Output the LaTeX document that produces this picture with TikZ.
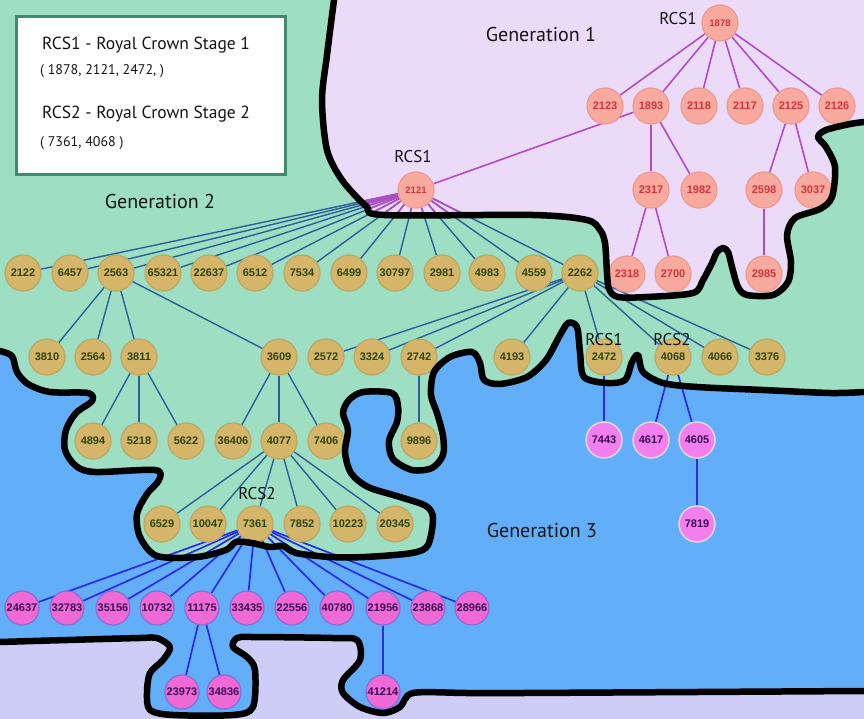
\documentclass[tikz,border=0pt]{standalone}
\usepackage{fontspec}
\setmainfont{PT Sans}
\newfontfamily\numfont{Liberation Sans}
\pgfdeclarelayer{back}
\pgfdeclarelayer{edges}
\pgfdeclarelayer{front}
\pgfsetlayers{back,edges,main,front}
\definecolor{bgblue}{HTML}{62AEF8}
\definecolor{bggreen}{HTML}{9EDFC4}
\definecolor{bglav}{HTML}{EBDAF8}
\definecolor{bglavb}{HTML}{CECDF8}
\definecolor{gaf}{HTML}{F9AA9F}
\definecolor{gal}{HTML}{EC9A90}
\definecolor{gat}{HTML}{D0363C}
\definecolor{gbf}{HTML}{D5B56A}
\definecolor{gbl}{HTML}{B9A862}
\definecolor{gbt}{HTML}{2D4612}
\definecolor{gcf}{HTML}{F37EEE}
\definecolor{gcl}{HTML}{E4D6EE}
\definecolor{gct}{HTML}{3A0B55}
\definecolor{gdf}{HTML}{F06AD6}
\definecolor{gdl}{HTML}{7F6FD6}
\definecolor{eacol}{HTML}{B04CC8}
\definecolor{ebcol}{HTML}{2D5E98}
\definecolor{eccol}{HTML}{2A2AEA}
\definecolor{legline}{HTML}{3D8C6E}
\definecolor{txtcol}{HTML}{141414}

\newcommand\LavB{plot[smooth,tension=0.5] coordinates {(334,0) (327,55) (322,100) (327,150) (342,180) (366,206) (384,215) (533,215) (587,220) (600,230) (605,243) (607,273) (609,289) (618,297) (647,297) (693,293) (703,280) (712,263) (717,252) (723,248) (728,252) (732,267) (738,287) (747,295) (773,295) (788,282) (791,262) (787,235) (795,218) (820,209) (832,197) (835,167) (826,147) (818,137) (826,130) (850,124) (864,122)}}
\newcommand\GrnB{plot[smooth,tension=0.5] coordinates {(0,351) (12,356) (17,372) (28,384) (50,392) (88,393) (92,401) (76,413) (66,430) (65,450) (76,466) (95,472) (155,470) (159,480) (147,494) (137,514) (140,537) (157,556) (197,557) (226,550) (236,542) (252,543) (270,547) (283,546) (296,553) (330,557) (365,557) (412,553) (428,545) (433,518) (426,506) (400,497) (368,487) (351,473) (345,452) (348,430) (343,413) (349,400) (363,392) (392,393) (398,406) (397,422) (389,441) (393,459) (412,470) (432,468) (443,455) (443,436) (437,413) (431,395) (434,372) (450,357) (472,352) (480,363) (484,380) (500,384) (527,377) (546,360) (559,337) (568,323) (577,327) (580,352) (584,377) (607,383) (625,380) (632,362) (638,355) (643,372) (663,383) (697,387) (763,390) (830,393) (864,392)}}
\newcommand\BotB{plot[smooth,tension=0.5] coordinates {(0,642) (67,640) (140,638) (157,638) (170,647) (163,660) (150,673) (147,693) (150,710) (173,715) (233,715) (253,707) (255,670) (247,657) (233,647) (237,638) (253,637) (333,638) (357,640) (360,660) (343,680) (343,693) (360,707) (383,713) (400,707) (413,693) (467,693) (523,693) (864,691)}}

\tikzset{
  nd/.style={circle, minimum size=36pt, inner sep=0pt, line width=1.2pt, font=\numfont\bfseries\fontsize{11}{12}\selectfont},
  ga/.style={nd, fill=gaf, draw=gal, text=gat},
  gasmall/.style={ga, font=\numfont\bfseries\fontsize{9.5}{11}\selectfont},
  gb/.style={nd, fill=gbf, draw=gbl, text=gbt},
  gc/.style={nd, fill=gcf, draw=gcl, line width=1.5pt, text=gct},
  gd/.style={nd, minimum size=34pt, fill=gdf, draw=gdl, text=gct},
  ea/.style={draw=eacol, line width=1.6pt},
  eb/.style={draw=ebcol, line width=1.4pt},
  ec/.style={draw=eccol, line width=1.7pt},
  bound/.style={draw=black, line width=6.5pt, line cap=round, line join=round},
  lbl/.style={inner sep=0pt, text=txtcol, font=\fontsize{17}{20}\selectfont},
  gen/.style={inner sep=0pt, text=txtcol, font=\fontsize{20}{24}\selectfont},
  legtxt/.style={inner sep=0pt, anchor=west, text=txtcol, font=\fontsize{17.5}{21}\selectfont},
  legsub/.style={inner sep=0pt, anchor=west, text=txtcol, font=\fontsize{14}{17}\selectfont},
}

\begin{document}
\begin{tikzpicture}[x=1pt,y=-1pt]
\useasboundingbox (0,0) rectangle (864,719);

% ---------- nodes ----------
% Generation 1
\node[gasmall] (n1878) at (720,23) {1878};
\foreach \n/\x in {2123/605,1893/651,2118/699,2117/745,2125/791,2126/837}
  \node[ga] (n\n) at (\x,106) {\n};
\foreach \n/\x in {2317/651,1982/699,2598/764,3037/813}
  \node[ga] (n\n) at (\x,190) {\n};
\foreach \n/\x in {2318/627,2700/673,2985/764}
  \node[ga] (n\n) at (\x,274) {\n};
\node[gasmall] (n2121) at (416,190) {2121};

% Generation 2
\foreach \n/\x in {2122/23,6457/70,2563/116,65321/163,22637/209,6512/255,7534/302,6499/349,30797/395,2981/442,4983/487,4559/534,2262/580}
  \node[gb] (n\n) at (\x,273) {\n};
\foreach \n/\x in {3810/47,2564/93,3811/139,3609/279,2572/326,3324/372,2742/419,4193/512,2472/604,4068/673,4066/720,3376/767}
  \node[gb] (n\n) at (\x,357) {\n};
\foreach \n/\x in {4894/93,5218/139,5622/186,36406/233,4077/279,7406/326,9896/419}
  \node[gb] (n\n) at (\x,441) {\n};
\foreach \n/\x in {6529/162,10047/208,7361/255,7852/302,10223/348,20345/395}
  \node[gb] (n\n) at (\x,524) {\n};

% Generation 3
\foreach \n/\x in {7443/604,4617/651,4605/697}
  \node[gc] (n\n) at (\x,440) {\n};
\node[gc] (n7819) at (697,524) {7819};
\foreach \n/\x in {24637/22,32783/67,35156/113,10732/157,11175/202,33435/247,22556/292,40780/337,21956/383,23868/428,28966/472}
  \node[gd] (n\n) at (\x,608) {\n};
\foreach \n/\x in {23973/182,34836/224,41214/383}
  \node[gd] (n\n) at (\x,692) {\n};

% ---------- edges ----------
\begin{pgfonlayer}{edges}
  \foreach \c in {2123,1893,2118,2117,2125,2126} \draw[ea] (n1878) -- (n\c);
  \foreach \c in {2317,1982} \draw[ea] (n1893) -- (n\c);
  \foreach \c in {2318,2700} \draw[ea] (n2317) -- (n\c);
  \foreach \c in {2598,3037} \draw[ea] (n2125) -- (n\c);
  \draw[ea] (n2598) -- (n2985);
  \draw[ea] (n2121) -- (n1893);

  \foreach \c in {2122,6457,2563,65321,22637,6512,7534,6499,30797,2981,4983,4559,2262} \draw[eb] (n2121) -- (n\c);
  \begin{scope}
    \clip \LavB -- (864,0) -- cycle;
    \foreach \c in {2122,6457,2563,65321,22637,6512,7534,6499,30797,2981,4983,4559,2262} \draw[ea] (n2121) -- (n\c);
  \end{scope}
  \foreach \c in {3810,2564,3811,3609} \draw[eb] (n2563) -- (n\c);
  \foreach \c in {4894,5218,5622} \draw[eb] (n3811) -- (n\c);
  \foreach \c in {36406,4077,7406} \draw[eb] (n3609) -- (n\c);
  \draw[eb] (n2742) -- (n9896);
  \foreach \c in {2572,3324,2742,4193,2472,4068,4066,3376} \draw[eb] (n2262) -- (n\c);
  \foreach \c in {6529,10047,7361,7852,10223,20345} \draw[eb] (n4077) -- (n\c);

  \foreach \c in {24637,32783,35156,10732,11175,33435,22556,40780,21956,23868,28966} \draw[ec] (n7361) -- (n\c);
  \foreach \c in {23973,34836} \draw[ec] (n11175) -- (n\c);
  \draw[ec] (n21956) -- (n41214);
  \draw[ec] (n2472) -- (n7443);
  \foreach \c in {4617,4605} \draw[ec] (n4068) -- (n\c);
  \draw[ec] (n4605) -- (n7819);
\end{pgfonlayer}

% ---------- background regions ----------
\begin{pgfonlayer}{back}
  \fill[bgblue] (0,0) rectangle (864,719);
  \fill[bggreen] \GrnB -- (864,0) -- (0,0) -- cycle;
  \fill[bglav] \LavB -- (864,0) -- cycle;
  \fill[bglavb] \BotB -- (864,719) -- (0,719) -- cycle;
\end{pgfonlayer}

% ---------- boundaries, labels, legend ----------
\begin{pgfonlayer}{front}
  \draw[bound] \LavB;
  \draw[bound] \GrnB;
  \draw[bound] \BotB;

  \node[lbl] (rcsA) at (678,19) {RCS1};
  \node[lbl] (rcsB) at (413,157) {RCS1};
  \node[lbl] (rcsC) at (604,340) {RCS1};
  \node[lbl] (rcsD) at (672,340) {RCS2};
  \node[lbl] (rcsE) at (257,494) {RCS2};

  \node[gen] (genA) at (541,35) {Generation 1};
  \node[gen] (genB) at (160,202) {Generation 2};
  \node[gen] (genC) at (542,530) {Generation 3};

  \node[draw=legline, line width=3pt, fill=white, minimum width=269pt, minimum height=158pt, inner sep=0pt, anchor=north west] (legend) at (15,15) {};
  \node[legtxt] (legA) at (42,45) {RCS1 - Royal Crown Stage 1};
  \node[legsub] (legB) at (40,71) {( 1878, 2121, 2472, )};
  \node[legtxt] (legC) at (42,114) {RCS2 - Royal Crown Stage 2};
  \node[legsub] (legD) at (40,143) {( 7361, 4068 )};
\end{pgfonlayer}
\end{tikzpicture}
\end{document}
